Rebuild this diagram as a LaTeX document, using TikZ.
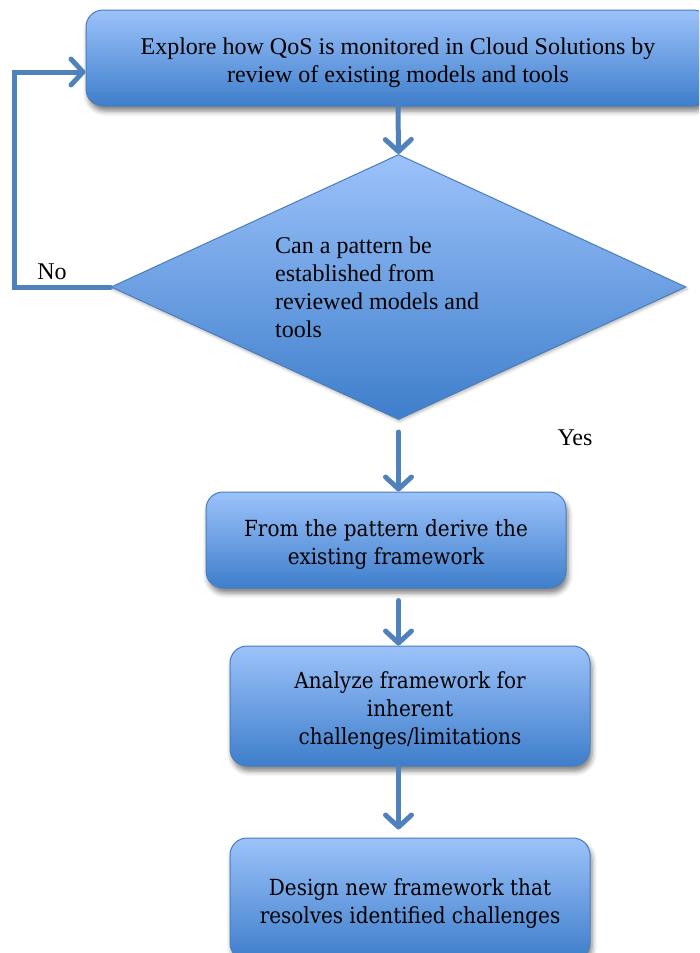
\documentclass[tikz,border=0pt]{standalone}
\usepackage{fontspec}
\setmainfont{Liberation Serif}
\newfontfamily\boxfont{DejaVu Serif Condensed}
\usetikzlibrary{shapes.geometric,arrows.meta,shadows.blur}

\definecolor{flowline}{HTML}{4F81BD}
\definecolor{filltop}{HTML}{9CC2FA}
\definecolor{fillbot}{HTML}{3E7ECB}
\definecolor{edgeblue}{HTML}{4A7EBB}

\tikzset{
  shaded/.style={draw=edgeblue, line width=1pt, top color=filltop, bottom color=fillbot},
  softshadow/.style={blur shadow={shadow xshift=2pt, shadow yshift=-5pt,
      shadow blur radius=5pt, shadow opacity=50}},
  stepbox/.style={shaded, softshadow, rectangle, rounded corners=17pt, inner sep=0pt,
      align=center, text=black},
  flow/.style={draw=flowline, line width=5pt, line cap=round,
      -{Straight Barb[round, length=12pt, width=26pt]}},
  timesfont/.style={font=\fontsize{24}{28}\selectfont},
  cambriafont/.style={font=\boxfont\fontsize{22.2}{28}\selectfont},
}

\begin{document}
\begin{tikzpicture}[x=1pt, y=-1pt]
  \useasboundingbox (0,0) rectangle (699,953);
  \clip (0,0) rectangle (699,953);

  % process boxes
  \node[stepbox, timesfont, minimum width=624pt, minimum height=96pt] (top) at (398,58)
    {\rule{0pt}{26pt}Explore how QoS is monitored in Cloud Solutions by\\review of existing models and tools};

  \node[diamond, shaded, blur shadow={shadow xshift=1pt, shadow yshift=-2pt,
      shadow blur radius=3pt, shadow opacity=30},
      minimum width=575pt, minimum height=265pt, inner sep=0pt] (dia) at (398.5,287) {};
  \node[timesfont, align=left, anchor=west, inner sep=0pt] (question) at (275,287)
    {Can a pattern be\\established from\\reviewed models and\\tools};

  \node[stepbox, cambriafont, minimum width=360pt, minimum height=96pt] (derive) at (386,540)
    {\rule{0pt}{25pt}From the pattern derive the\\existing framework};
  \node[stepbox, cambriafont, minimum width=360pt, minimum height=120pt] (analyze) at (410,706)
    {\rule{0pt}{25pt}Analyze framework for\\inherent\\challenges/limitations};
  \node[stepbox, cambriafont, minimum width=360pt, minimum height=122pt] (design) at (410,899)
    {\rule{0pt}{25pt}Design new framework that\\resolves identified challenges};

  % connectors
  \draw[flow] (top.south) -- (dia.north);
  \draw[flow, shorten <=12pt] (dia.south) -- (derive.north -| dia.south);
  \draw[flow, shorten <=12pt] (derive.south -| dia.south) -- (analyze.north -| dia.south);
  \draw[flow, shorten >=8pt] (analyze.south -| dia.south) -- (design.north -| dia.south);
  \draw[flow] (dia.west) -- (14,287) -- (14,72) -- (top.west |- 14,72);

  % branch labels
  \node[timesfont, inner sep=0pt] (no) at (52,272) {No};
  \node[timesfont, inner sep=0pt] (yes) at (575,438) {Yes};
\end{tikzpicture}
\end{document}
